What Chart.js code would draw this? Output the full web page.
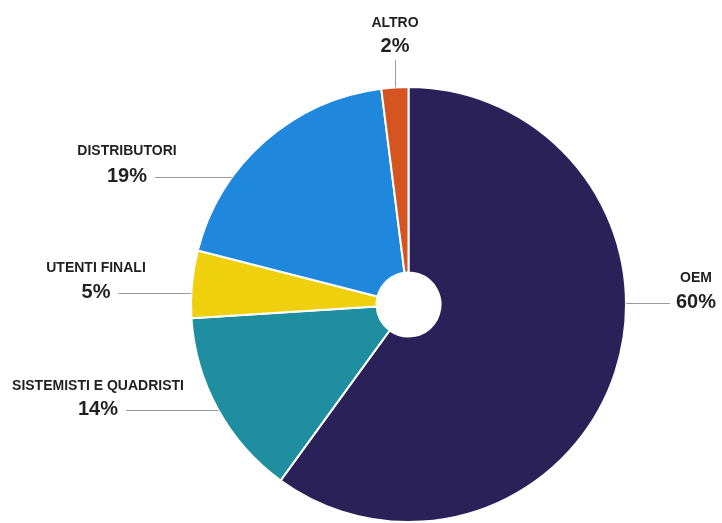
<!DOCTYPE html>
<html>
<head>
<meta charset="utf-8">
<script src="https://cdn.jsdelivr.net/npm/chart.js@4/dist/chart.umd.min.js"></script>
<style>
  html, body { margin: 0; padding: 0; background: #fff; }
  #wrap { width: 722px; height: 523px; position: relative; }
</style>
</head>
<body>
<div id="wrap"><canvas id="pie"></canvas></div>
<script>
'use strict';

// Ripartizione vendite per canale
const categories = ['OEM', 'SISTEMISTI E QUADRISTI', 'UTENTI FINALI', 'DISTRIBUTORI', 'ALTRO'];
const shares     = [60, 14, 5, 19, 2];
const colors     = ['#2b2159', '#1f8ea0', '#efd00c', '#1f87dc', '#d4551f'];

// where each caption sits (name centre x, name baseline, pct baseline) and which side the leader goes
const captions = [
    { x: 696, nameY: 282, pctY: 308, side: 'left'  },
    { x: 98,  nameY: 390, pctY: 415, side: 'right' },
    { x: 96,  nameY: 272, pctY: 298, side: 'right' },
    { x: 127, nameY: 155, pctY: 182, side: 'right' },
    { x: 395, nameY: 27,  pctY: 52,  side: 'down'  },
];

const FONT = '"Liberation Sans", Arial, sans-serif';

const calloutPlugin = {
    id: 'callouts',
    afterDraw(chart) {
        const ctx = chart.ctx;
        const arcs = chart.getDatasetMeta(0).data;
        ctx.save();
        ctx.textAlign = 'center';
        ctx.fillStyle = '#231f20';
        arcs.forEach((arc, i) => {
            const c = captions[i];
            const { x: cx, y: cy, outerRadius: r } = arc.getProps(['x', 'y', 'outerRadius'], true);
            const pct = shares[i] + '%';

            ctx.font = 'bold 14px ' + FONT;
            ctx.fillText(categories[i], c.x, c.nameY);
            ctx.font = 'bold 20px ' + FONT;
            ctx.fillText(pct, c.x, c.pctY);
            const pw = ctx.measureText(pct).width;

            ctx.strokeStyle = '#9a9a9a';
            ctx.lineWidth = 1;
            ctx.beginPath();
            if (c.side === 'down') {
                const mid = (arc.startAngle + arc.endAngle) / 2;
                const ex = Math.round(cx + r * Math.cos(mid)) + 0.5;
                ctx.moveTo(ex, c.pctY + 8);
                ctx.lineTo(ex, cy + r * Math.sin(mid));
            } else {
                const ly = Math.round(c.pctY - 5) + 0.5;
                const dx = Math.sqrt(Math.max(0, r * r - (ly - cy) * (ly - cy)));
                if (c.side === 'right') {
                    ctx.moveTo(c.x + pw / 2 + 8, ly);
                    ctx.lineTo(cx - dx, ly);
                } else {
                    ctx.moveTo(c.x - pw / 2 - 6, ly);
                    ctx.lineTo(cx + dx, ly);
                }
            }
            ctx.stroke();
        });
        ctx.restore();
    },
};

new Chart(document.getElementById('pie').getContext('2d'), {
    type: 'doughnut',
    data: {
        labels: categories,
        datasets: [{
            data: shares,
            backgroundColor: colors,
            borderColor: '#ffffff',
            borderWidth: 2,
            hoverOffset: 0,
        }],
    },
    options: {
        responsive: true,
        maintainAspectRatio: false,
        devicePixelRatio: 1,
        animation: false,
        cutout: 32,
        layout: { padding: { top: 86, bottom: 0, left: 190, right: 95 } },
        plugins: {
            legend: { display: false },
            tooltip: { enabled: false },
        },
    },
    plugins: [calloutPlugin],
});
</script>
</body>
</html>
